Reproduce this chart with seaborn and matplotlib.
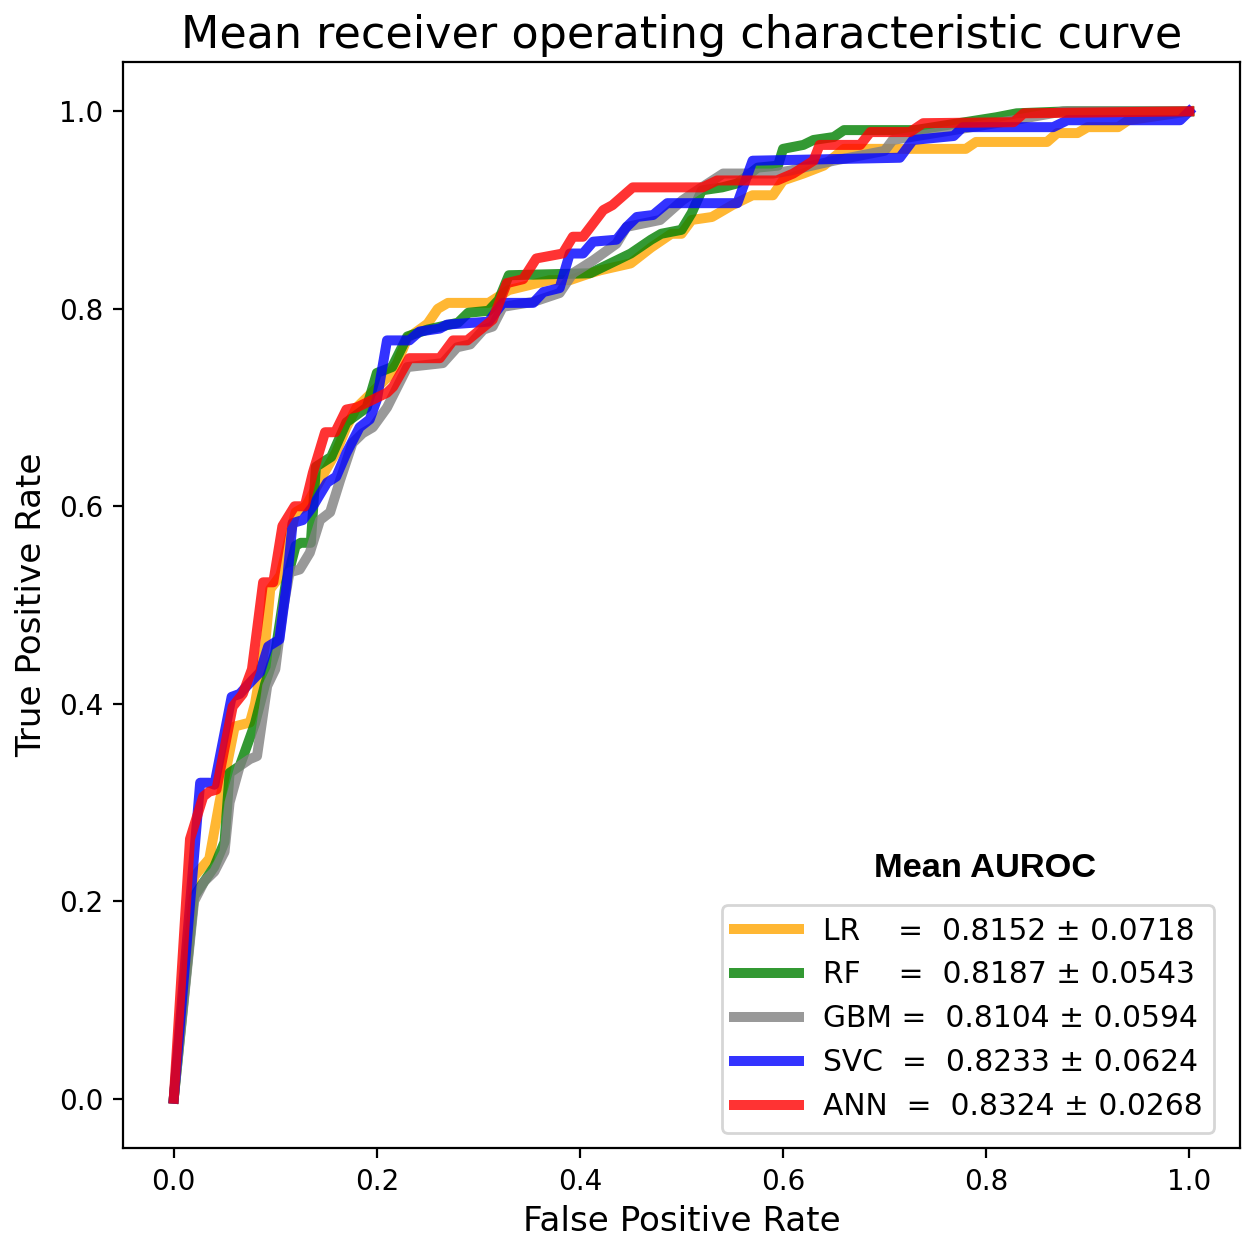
import seaborn as sns
import matplotlib
matplotlib.use("Agg")
import matplotlib.pyplot as plt
import pandas as pd

# mean ROC curves (fpr, tpr vertices)
lr_fpr = [0, .02, .035, .045, .06, .075, .08, .09, .095, .105, .12, .13, .15, .16, .17, .18, .2, .21, .22, .23, .25, .26, .27, .31, .33, .37, .39, .41, .42, .45, .47, .49, .5, .51, .53, .55, .57, .59, .6, .62, .64, .66, .78, .79, .86, .87, .89, .9, .93, .94, 1.0]
lr_tpr = [0, .225, .243, .30, .377, .381, .40, .46, .516, .53, .594, .60, .637, .655, .68, .70, .72, .73, .745, .77, .785, .80, .806, .806, .819, .829, .829, .836, .839, .846, .862, .876, .876, .89, .893, .905, .915, .915, .93, .937, .945, .962, .962, .969, .969, .978, .978, .984, .984, .991, 1.0]

rf_fpr = [0, .02, .03, .04, .05, .055, .065, .08, .09, .1, .11, .12, .125, .135, .14, .155, .17, .19, .2, .215, .23, .25, .28, .29, .31, .32, .33, .41, .43, .45, .47, .48, .5, .51, .52, .54, .555, .575, .595, .6, .62, .63, .65, .66, .73, .81, .83, .88, 1.0]
rf_tpr = [0, .205, .22, .235, .26, .33, .337, .38, .42, .452, .52, .56, .563, .563, .64, .65, .685, .70, .735, .741, .772, .779, .786, .796, .798, .809, .834, .836, .846, .856, .87, .876, .88, .897, .92, .923, .927, .943, .945, .962, .966, .971, .974, .981, .981, .994, .998, 1.0, 1.0]

gbm_fpr = [0, .02, .03, .04, .05, .055, .065, .075, .082, .092, .1, .107, .114, .124, .134, .144, .154, .164, .176, .186, .196, .21, .23, .265, .279, .292, .305, .314, .324, .354, .38, .393, .413, .436, .446, .479, .501, .511, .541, .59, .607, .65, .7, .708, .768, .827, .876, 1.0]
gbm_tpr = [0, .20, .22, .23, .25, .30, .337, .344, .347, .418, .435, .492, .533, .536, .553, .586, .594, .627, .664, .674, .68, .70, .741, .745, .761, .764, .779, .782, .802, .807, .816, .836, .849, .866, .883, .89, .91, .917, .937, .937, .94, .95, .96, .971, .981, .991, 1.0, 1.0]

svc_fpr = [0, .026, .035, .04, .057, .065, .072, .085, .093, .104, .111, .117, .127, .137, .151, .16, .17, .183, .193, .2, .21, .232, .242, .262, .269, .31, .324, .354, .364, .38, .39, .403, .413, .436, .446, .456, .472, .486, .555, .57, .715, .728, .768, .777, .866, .88, .991, 1.0]
svc_tpr = [0, .32, .32, .318, .407, .41, .418, .432, .458, .465, .519, .583, .586, .60, .624, .63, .654, .68, .688, .708, .768, .768, .777, .78, .784, .787, .806, .806, .817, .821, .856, .856, .868, .87, .883, .893, .895, .907, .907, .95, .953, .971, .975, .984, .984, .991, .991, 1.0]

ann_fpr = [0, .016, .029, .035, .042, .058, .068, .077, .088, .098, .107, .119, .129, .137, .149, .159, .17, .18, .21, .216, .232, .262, .275, .289, .314, .328, .344, .357, .383, .393, .403, .423, .432, .452, .521, .535, .594, .61, .63, .636, .676, .686, .725, .738, .827, .837, 1.0]
ann_tpr = [0, .263, .306, .311, .313, .397, .41, .435, .523, .523, .58, .60, .60, .634, .675, .675, .698, .70, .715, .721, .75, .75, .768, .768, .789, .826, .83, .851, .856, .873, .873, .90, .905, .923, .923, .93, .93, .937, .95, .966, .966, .979, .979, .988, .989, .998, 1.0]

models = ["LR", "RF", "GBM", "SVC", "ANN"]
colors = ["orange", "green", "gray", "blue", "red"]
auc_mean = ["0.8152", "0.8187", "0.8104", "0.8233", "0.8324"]
auc_std = ["0.0718", "0.0543", "0.0594", "0.0624", "0.0268"]
pads = ["    ", "    ", " ", "  ", "  "]

curves = {"LR": (lr_fpr, lr_tpr), "RF": (rf_fpr, rf_tpr), "GBM": (gbm_fpr, gbm_tpr),
          "SVC": (svc_fpr, svc_tpr), "ANN": (ann_fpr, ann_tpr)}

frames = []
for m in models:
    f, t = curves[m]
    frames.append(pd.DataFrame({"fpr": f, "tpr": t, "model": m}))
df = pd.concat(frames, ignore_index=True)

fig = plt.figure(figsize=(6.23, 6.185), dpi=200)
ax = fig.add_axes([0.0987, 0.0719, 0.8965, 0.878])

sns.lineplot(data=df, x="fpr", y="tpr", hue="model", hue_order=models,
             palette=dict(zip(models, colors)), sort=False, estimator=None,
             lw=3.6, alpha=0.8, legend=False, ax=ax)

ax.set_xlim(-0.05, 1.05)
ax.set_ylim(-0.05, 1.05)
ax.set_xticks([0, 0.2, 0.4, 0.6, 0.8, 1.0])
ax.set_yticks([0, 0.2, 0.4, 0.6, 0.8, 1.0])
ax.set_xlabel("False Positive Rate", fontsize=12.3, labelpad=3.5)
ax.set_ylabel("True Positive Rate", fontsize=12.3)
ax.set_title("Mean receiver operating characteristic curve", fontsize=16, pad=5)

labels = [f"{m}{p}=  {a} ± {s}" for m, p, a, s in zip(models, pads, auc_mean, auc_std)]
ax.legend(ax.lines[:5], labels, loc="lower right", bbox_to_anchor=(0.977, 0.014),
          borderaxespad=0, fontsize=10.7, handlelength=2.2, labelspacing=0.5)
ax.text(0.772, 0.257, "Mean AUROC", transform=ax.transAxes, ha="center", va="center",
        fontsize=12.4, fontweight="bold", family="Liberation Sans")

fig.savefig("out.png", dpi=200)
